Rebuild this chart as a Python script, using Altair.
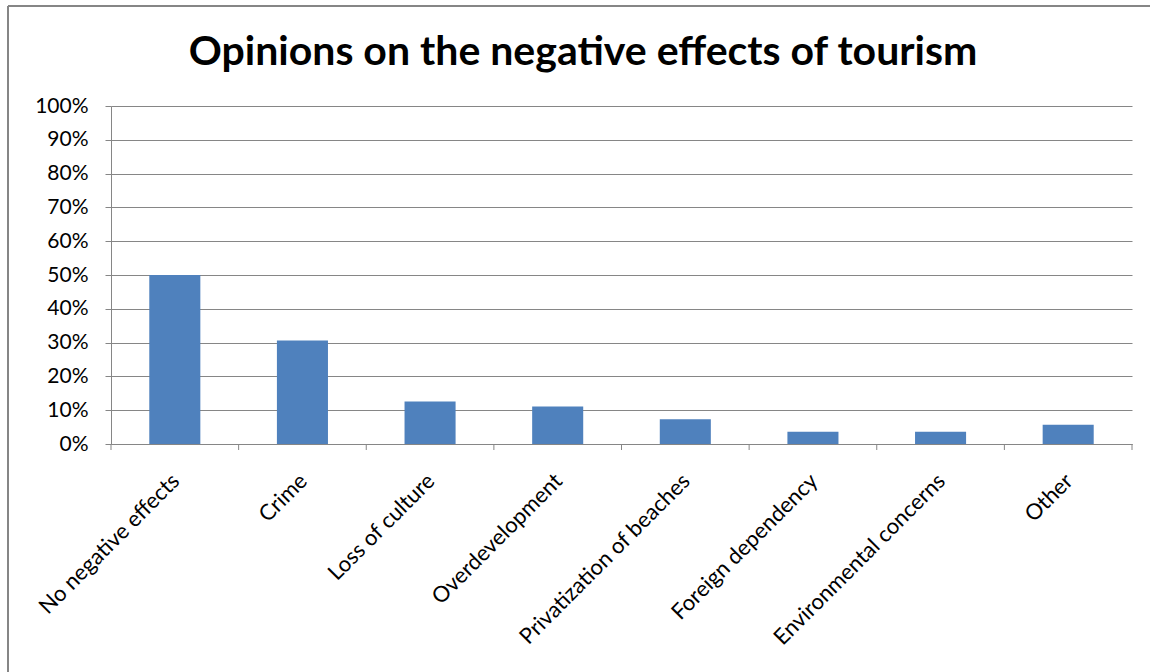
import altair as alt
import pandas as pd

# Survey responses: share of respondents naming each negative effect
categories = [
    "No negative effects",
    "Crime",
    "Loss of culture",
    "Overdevelopment",
    "Privatization of beaches",
    "Foreign dependency",
    "Environmental concerns",
    "Other",
]
shares = [0.50, 0.306, 0.126, 0.111, 0.073, 0.036, 0.036, 0.057]
title_text = ["Opinions on the negative effects of tourism"]

df = pd.DataFrame({"category": categories, "share": shares})
title_df = pd.DataFrame({"title": title_text})

W, H = 1021, 338
FONT = "Lato"
GREY = "#868686"

x_enc = alt.X(
    "category:N",
    sort=None,
    scale=alt.Scale(paddingInner=0, paddingOuter=0),
    axis=alt.Axis(
        title=None,
        labelAngle=-45,
        labelAlign="right",
        labelBaseline="top",
        labelPadding=26,
        labelOffset=-6,
        labelFontSize=22,
        labelFont=FONT,
        labelColor="#000000",
        labelLimit=0,
        labelOverlap=False,
        ticks=False,
        domainColor=GREY,
        domainWidth=1,
        grid=False,
    ),
)

bars = alt.Chart(df).mark_bar(
    color="#4F81BD", width=alt.RelativeBandSize(0.4)
).encode(
    x=x_enc,
    y=alt.Y(
        "share:Q",
        scale=alt.Scale(domain=[0, 1], nice=False),
        axis=alt.Axis(
            title=None,
            format=".0%",
            values=[i / 10 for i in range(11)],
            labelFontSize=21,
            labelFont=FONT,
            labelColor="#000000",
            labelPadding=17,
            tickSize=6,
            tickColor=GREY,
            domainColor=GREY,
            gridColor=GREY,
            gridWidth=1,
        ),
    ),
)

# Category boundary ticks below the x axis
ticks_left = alt.Chart(df).mark_rule(color=GREY).encode(
    x=alt.X("category:N", sort=None, bandPosition=0),
    y=alt.value(H),
    y2=alt.value(H + 6),
)
ticks_right = alt.Chart(df.tail(1)).mark_rule(color=GREY).encode(
    x=alt.X("category:N", sort=None, bandPosition=1),
    y=alt.value(H),
    y2=alt.value(H + 6),
)

# Chart title
title = alt.Chart(title_df).mark_text(
    font=FONT, fontSize=41, fontWeight="bold", color="#000000",
    align="center", baseline="alphabetic",
).encode(
    text="title:N",
    x=alt.value(583 - 111),
    y=alt.value(65 - 106),
)

# Outer chart frame (top and left edges)
frame_top = alt.Chart(title_df).mark_rule(color=GREY, strokeWidth=2).encode(
    x=alt.value(-103), x2=alt.value(1150), y=alt.value(-100)
)
frame_left = alt.Chart(title_df).mark_rule(color=GREY, strokeWidth=2).encode(
    x=alt.value(-103), y=alt.value(-100), y2=alt.value(700)
)

chart = (
    alt.layer(bars, ticks_left, ticks_right, title, frame_top, frame_left)
    .properties(
        width=W,
        height=H,
        autosize=alt.AutoSizeParams(type="none"),
        padding={"left": 111, "top": 106, "right": 18, "bottom": 228},
        background="#ffffff",
    )
    .configure_view(stroke=None)
)

chart.save("out.html", embed_options={"renderer": "svg", "actions": False})
